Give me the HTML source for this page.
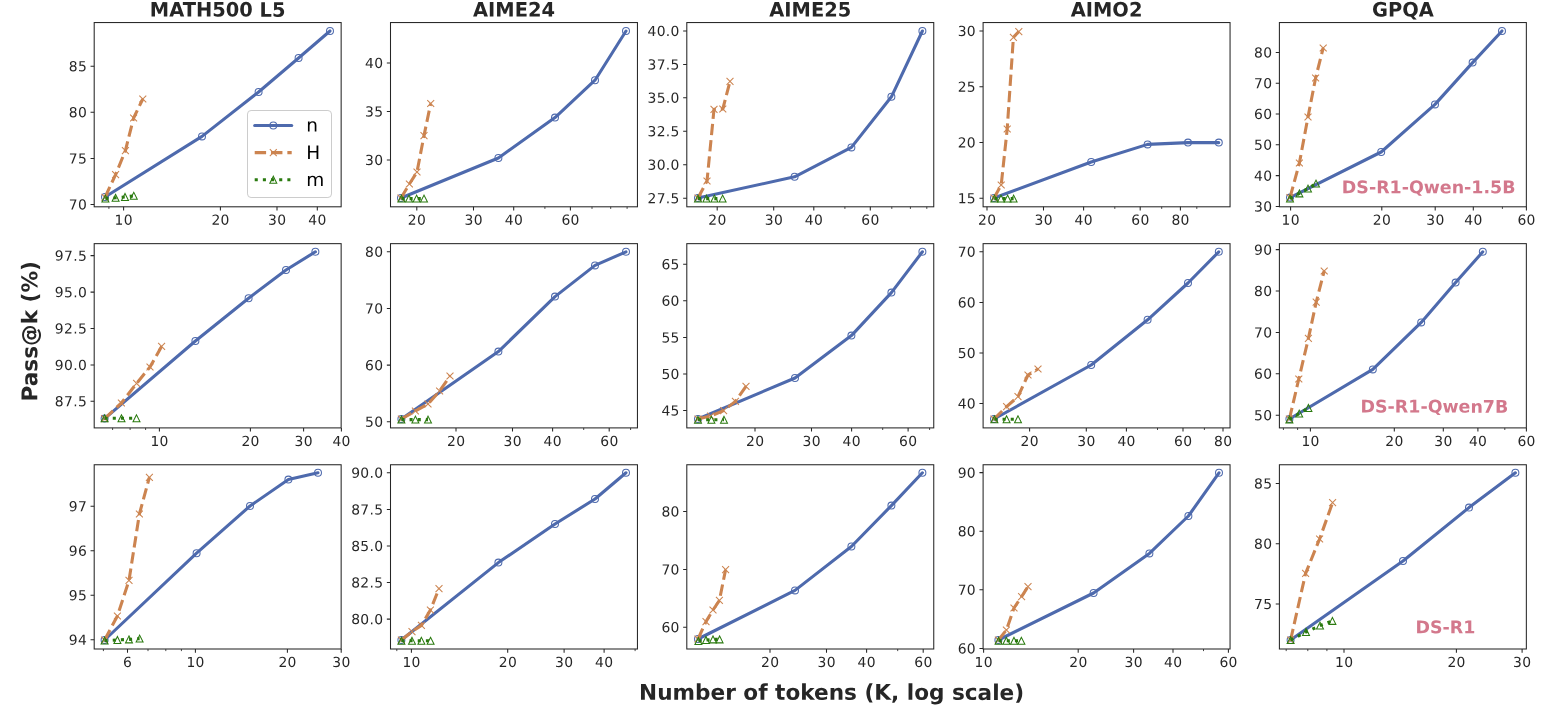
<!DOCTYPE html>
<html lang="en"><head><meta charset="utf-8"><title>Pass@k vs number of tokens</title>
<style>
html,body{margin:0;padding:0;background:#fff;}
body{width:1550px;height:717px;overflow:hidden;}
svg{display:block;}
text{font-family:"DejaVu Sans","Liberation Sans",sans-serif;fill:#262626;text-rendering:geometricPrecision;}
.tk{font-size:13.89px;letter-spacing:0.35px;}
.ti{font-size:19.44px;font-weight:bold;text-anchor:middle;}
.lb{font-size:21.6px;font-weight:bold;text-anchor:middle;}
.an{font-size:17.45px;font-weight:bold;text-anchor:middle;fill:#d3788c;}
.lg{font-size:18.5px;fill:#000;}
.sp{fill:none;stroke:#262626;stroke-width:1.05;stroke-linecap:square;stroke-linejoin:miter;}
.tkm{stroke:#262626;stroke-width:1.05;fill:none;}
.tkn{stroke:#262626;stroke-width:0.85;fill:none;}
.lb1{fill:none;stroke:#4e6aad;stroke-width:3.08;stroke-linecap:round;stroke-linejoin:round;}
.lo1{fill:none;stroke:#cc8450;stroke-width:3.08;stroke-linecap:butt;stroke-linejoin:round;stroke-dasharray:11.4 4.93;}
.lg1{fill:none;stroke:#2a7a0f;stroke-width:3.08;stroke-linecap:butt;stroke-linejoin:round;stroke-dasharray:3.08 5.08;}
.mb{fill:none;stroke:#4e6aad;stroke-width:1.05;}
.mo{fill:none;stroke:#cc8450;stroke-width:1.05;}
.mg{fill:none;stroke:#2a7a0f;stroke-width:1.05;stroke-linejoin:miter;}
</style></head><body>
<svg width="1550" height="717" viewBox="0 0 1550 717">
<rect x="0" y="0" width="1550" height="717" fill="#ffffff"/>
<g id="ax00">
<clipPath id="cp00"><rect x="94.2" y="22.55" width="246.95" height="184.25"/></clipPath>
<g clip-path="url(#cp00)">
<polyline class="lb1" points="105,197 202,136.4 258.6,92 298.6,58 330,31"/>
<g class="mb"><circle cx="105" cy="197" r="3.47"/><circle cx="202" cy="136.4" r="3.47"/><circle cx="258.6" cy="92" r="3.47"/><circle cx="298.6" cy="58" r="3.47"/><circle cx="330" cy="31" r="3.47"/></g>
<polyline class="lo1" points="105,197.3 115.6,174.6 125.4,150.6 133.6,118 142.8,99"/>
<g class="mo"><path d="M101.53 193.83L108.47 200.77M101.53 200.77L108.47 193.83"/><path d="M112.13 171.13L119.07 178.07M112.13 178.07L119.07 171.13"/><path d="M121.93 147.13L128.87 154.07M121.93 154.07L128.87 147.13"/><path d="M130.13 114.53L137.07 121.47M130.13 121.47L137.07 114.53"/><path d="M139.33 95.53L146.27 102.47M139.33 102.47L146.27 95.53"/></g>
<polyline class="lg1" points="105.4,198.6 115.6,197.8 125,197 133.8,195.8"/>
<g class="mg"><path d="M105.4 195.13L101.93 202.07L108.87 202.07Z"/><path d="M115.6 194.33L112.13 201.27L119.07 201.27Z"/><path d="M125 193.53L121.53 200.47L128.47 200.47Z"/><path d="M133.8 192.33L130.33 199.27L137.27 199.27Z"/></g>
</g>
<path class="tkm" d="M94.2 66.2H90.55M94.2 112.3H90.55M94.2 158.4H90.55M94.2 204.4H90.55M123.6 206.8V210.45M220.4 206.8V210.45M277 206.8V210.45M317.3 206.8V210.45"/>
<path class="tkn" d="M108.9 206.8V208.9"/>
<rect class="sp" x="94.2" y="22.55" width="246.95" height="184.25"/>
<text class="tk" text-anchor="end" transform="translate(87.15 71.25) rotate(0.05)">85</text>
<text class="tk" text-anchor="end" transform="translate(87.15 117.35) rotate(0.05)">80</text>
<text class="tk" text-anchor="end" transform="translate(87.15 163.45) rotate(0.05)">75</text>
<text class="tk" text-anchor="end" transform="translate(87.15 209.45) rotate(0.05)">70</text>
<text class="tk" text-anchor="middle" transform="translate(123.77 224.85) rotate(0.05)">10</text>
<text class="tk" text-anchor="middle" transform="translate(220.57 224.85) rotate(0.05)">20</text>
<text class="tk" text-anchor="middle" transform="translate(277.17 224.85) rotate(0.05)">30</text>
<text class="tk" text-anchor="middle" transform="translate(317.47 224.85) rotate(0.05)">40</text>
<text class="ti" transform="translate(217.67 16.6) rotate(0.05) scale(1 1.016)">MATH500 L5</text>
</g>
<g id="ax01">
<clipPath id="cp01"><rect x="390.5" y="22.55" width="246.95" height="184.25"/></clipPath>
<g clip-path="url(#cp01)">
<polyline class="lb1" points="401,198 498.4,158 555,117.6 595,80.2 626,31"/>
<g class="mb"><circle cx="401" cy="198" r="3.47"/><circle cx="498.4" cy="158" r="3.47"/><circle cx="555" cy="117.6" r="3.47"/><circle cx="595" cy="80.2" r="3.47"/><circle cx="626" cy="31" r="3.47"/></g>
<polyline class="lo1" points="401,198 409.4,184 417,172 424,135.6 430.7,103.5"/>
<g class="mo"><path d="M397.53 194.53L404.47 201.47M397.53 201.47L404.47 194.53"/><path d="M405.93 180.53L412.87 187.47M405.93 187.47L412.87 180.53"/><path d="M413.53 168.53L420.47 175.47M413.53 175.47L420.47 168.53"/><path d="M420.53 132.13L427.47 139.07M420.53 139.07L427.47 132.13"/><path d="M427.23 100.03L434.17 106.97M427.23 106.97L434.17 100.03"/></g>
<polyline class="lg1" points="401.4,198.6 409,198.6 416.6,198.6 424,198.6"/>
<g class="mg"><path d="M401.4 195.13L397.93 202.07L404.87 202.07Z"/><path d="M409 195.13L405.53 202.07L412.47 202.07Z"/><path d="M416.6 195.13L413.13 202.07L420.07 202.07Z"/><path d="M424 195.13L420.53 202.07L427.47 202.07Z"/></g>
</g>
<path class="tkm" d="M390.5 63H386.85M390.5 111.5H386.85M390.5 160H386.85M416.8 206.8V210.45M473.5 206.8V210.45M513.7 206.8V210.45M570.4 206.8V210.45"/>
<path class="tkn" d="M544.9 206.8V208.9M592 206.8V208.9M610.7 206.8V208.9M627.1 206.8V208.9"/>
<rect class="sp" x="390.5" y="22.55" width="246.95" height="184.25"/>
<text class="tk" text-anchor="end" transform="translate(383.45 68.05) rotate(0.05)">40</text>
<text class="tk" text-anchor="end" transform="translate(383.45 116.55) rotate(0.05)">35</text>
<text class="tk" text-anchor="end" transform="translate(383.45 165.05) rotate(0.05)">30</text>
<text class="tk" text-anchor="middle" transform="translate(416.97 224.85) rotate(0.05)">20</text>
<text class="tk" text-anchor="middle" transform="translate(473.67 224.85) rotate(0.05)">30</text>
<text class="tk" text-anchor="middle" transform="translate(513.87 224.85) rotate(0.05)">40</text>
<text class="tk" text-anchor="middle" transform="translate(570.57 224.85) rotate(0.05)">60</text>
<text class="ti" transform="translate(513.98 16.6) rotate(0.05) scale(1 1.016)">AIME24</text>
</g>
<g id="ax02">
<clipPath id="cp02"><rect x="686.8" y="22.55" width="246.95" height="184.25"/></clipPath>
<g clip-path="url(#cp02)">
<polyline class="lb1" points="698,198 794.6,176.8 851.4,147.4 891.4,96.8 922.4,31"/>
<g class="mb"><circle cx="698" cy="198" r="3.47"/><circle cx="794.6" cy="176.8" r="3.47"/><circle cx="851.4" cy="147.4" r="3.47"/><circle cx="891.4" cy="96.8" r="3.47"/><circle cx="922.4" cy="31" r="3.47"/></g>
<polyline class="lo1" points="698,198 707,181 714,109.4 722.8,109 730,81.4"/>
<g class="mo"><path d="M694.53 194.53L701.47 201.47M694.53 201.47L701.47 194.53"/><path d="M703.53 177.53L710.47 184.47M703.53 184.47L710.47 177.53"/><path d="M710.53 105.93L717.47 112.87M710.53 112.87L717.47 105.93"/><path d="M719.33 105.53L726.27 112.47M719.33 112.47L726.27 105.53"/><path d="M726.53 77.93L733.47 84.87M726.53 84.87L733.47 77.93"/></g>
<polyline class="lg1" points="698,198.6 706.4,198.6 714.4,198.6 722.6,198.6"/>
<g class="mg"><path d="M698 195.13L694.53 202.07L701.47 202.07Z"/><path d="M706.4 195.13L702.93 202.07L709.87 202.07Z"/><path d="M714.4 195.13L710.93 202.07L717.87 202.07Z"/><path d="M722.6 195.13L719.13 202.07L726.07 202.07Z"/></g>
</g>
<path class="tkm" d="M686.8 31H683.15M686.8 64.4H683.15M686.8 97.8H683.15M686.8 131.3H683.15M686.8 164.8H683.15M686.8 198.2H683.15M717.2 206.8V210.45M773.7 206.8V210.45M813.8 206.8V210.45M870.3 206.8V210.45"/>
<path class="tkn" d="M844.9 206.8V208.9M891.8 206.8V208.9M910.4 206.8V208.9M926.8 206.8V208.9"/>
<rect class="sp" x="686.8" y="22.55" width="246.95" height="184.25"/>
<text class="tk" text-anchor="end" transform="translate(679.75 36.05) rotate(0.05)">40.0</text>
<text class="tk" text-anchor="end" transform="translate(679.75 69.45) rotate(0.05)">37.5</text>
<text class="tk" text-anchor="end" transform="translate(679.75 102.85) rotate(0.05)">35.0</text>
<text class="tk" text-anchor="end" transform="translate(679.75 136.35) rotate(0.05)">32.5</text>
<text class="tk" text-anchor="end" transform="translate(679.75 169.85) rotate(0.05)">30.0</text>
<text class="tk" text-anchor="end" transform="translate(679.75 203.25) rotate(0.05)">27.5</text>
<text class="tk" text-anchor="middle" transform="translate(717.37 224.85) rotate(0.05)">20</text>
<text class="tk" text-anchor="middle" transform="translate(773.87 224.85) rotate(0.05)">30</text>
<text class="tk" text-anchor="middle" transform="translate(813.97 224.85) rotate(0.05)">40</text>
<text class="tk" text-anchor="middle" transform="translate(870.47 224.85) rotate(0.05)">60</text>
<text class="ti" transform="translate(810.28 16.6) rotate(0.05) scale(1 1.016)">AIME25</text>
</g>
<g id="ax03">
<clipPath id="cp03"><rect x="983.1" y="22.55" width="246.95" height="184.25"/></clipPath>
<g clip-path="url(#cp03)">
<polyline class="lb1" points="994,198 1091.2,162 1147.6,144.4 1188,142.6 1218.8,142.6"/>
<g class="mb"><circle cx="994" cy="198" r="3.47"/><circle cx="1091.2" cy="162" r="3.47"/><circle cx="1147.6" cy="144.4" r="3.47"/><circle cx="1188" cy="142.6" r="3.47"/><circle cx="1218.8" cy="142.6" r="3.47"/></g>
<polyline class="lo1" points="994,198 1001.2,185 1007.2,129 1013.4,37.4 1018.8,31.6"/>
<g class="mo"><path d="M990.53 194.53L997.47 201.47M990.53 201.47L997.47 194.53"/><path d="M997.73 181.53L1004.67 188.47M997.73 188.47L1004.67 181.53"/><path d="M1003.73 125.53L1010.67 132.47M1003.73 132.47L1010.67 125.53"/><path d="M1009.93 33.93L1016.87 40.87M1009.93 40.87L1016.87 33.93"/><path d="M1015.33 28.13L1022.27 35.07M1015.33 35.07L1022.27 28.13"/></g>
<polyline class="lg1" points="994.4,198.6 1001,198.6 1007.6,198.6 1013.6,198.6"/>
<g class="mg"><path d="M994.4 195.13L990.93 202.07L997.87 202.07Z"/><path d="M1001 195.13L997.53 202.07L1004.47 202.07Z"/><path d="M1007.6 195.13L1004.13 202.07L1011.07 202.07Z"/><path d="M1013.6 195.13L1010.13 202.07L1017.07 202.07Z"/></g>
</g>
<path class="tkm" d="M983.1 31H979.45M983.1 86.7H979.45M983.1 142.4H979.45M983.1 198.2H979.45M987 206.8V210.45M1043.5 206.8V210.45M1083.6 206.8V210.45M1140.2 206.8V210.45M1180.4 206.8V210.45"/>
<path class="tkn" d="M1114.8 206.8V208.9M1161.7 206.8V208.9M1196.8 206.8V208.9"/>
<rect class="sp" x="983.1" y="22.55" width="246.95" height="184.25"/>
<text class="tk" text-anchor="end" transform="translate(976.05 36.05) rotate(0.05)">30</text>
<text class="tk" text-anchor="end" transform="translate(976.05 91.75) rotate(0.05)">25</text>
<text class="tk" text-anchor="end" transform="translate(976.05 147.45) rotate(0.05)">20</text>
<text class="tk" text-anchor="end" transform="translate(976.05 203.25) rotate(0.05)">15</text>
<text class="tk" text-anchor="middle" transform="translate(987.17 224.85) rotate(0.05)">20</text>
<text class="tk" text-anchor="middle" transform="translate(1043.67 224.85) rotate(0.05)">30</text>
<text class="tk" text-anchor="middle" transform="translate(1083.77 224.85) rotate(0.05)">40</text>
<text class="tk" text-anchor="middle" transform="translate(1140.37 224.85) rotate(0.05)">60</text>
<text class="tk" text-anchor="middle" transform="translate(1180.57 224.85) rotate(0.05)">80</text>
<text class="ti" transform="translate(1106.58 16.6) rotate(0.05) scale(1 1.016)">AIMO2</text>
</g>
<g id="ax04">
<clipPath id="cp04"><rect x="1279.4" y="22.55" width="246.95" height="184.25"/></clipPath>
<g clip-path="url(#cp04)">
<polyline class="lb1" points="1290,197.6 1381.2,152 1435,104.4 1472.6,62.6 1502,31"/>
<g class="mb"><circle cx="1290" cy="197.6" r="3.47"/><circle cx="1381.2" cy="152" r="3.47"/><circle cx="1435" cy="104.4" r="3.47"/><circle cx="1472.6" cy="62.6" r="3.47"/><circle cx="1502" cy="31" r="3.47"/></g>
<polyline class="lo1" points="1290,197.6 1299.4,163 1308,117 1315.6,78 1323.2,48"/>
<g class="mo"><path d="M1286.53 194.13L1293.47 201.07M1286.53 201.07L1293.47 194.13"/><path d="M1295.93 159.53L1302.87 166.47M1295.93 166.47L1302.87 159.53"/><path d="M1304.53 113.53L1311.47 120.47M1304.53 120.47L1311.47 113.53"/><path d="M1312.13 74.53L1319.07 81.47M1312.13 81.47L1319.07 74.53"/><path d="M1319.73 44.53L1326.67 51.47M1319.73 51.47L1326.67 44.53"/></g>
<polyline class="lg1" points="1290,198.6 1299.4,193.4 1308,188.6 1316,183.6"/>
<g class="mg"><path d="M1290 195.13L1286.53 202.07L1293.47 202.07Z"/><path d="M1299.4 189.93L1295.93 196.87L1302.87 196.87Z"/><path d="M1308 185.13L1304.53 192.07L1311.47 192.07Z"/><path d="M1316 180.13L1312.53 187.07L1319.47 187.07Z"/></g>
</g>
<path class="tkm" d="M1279.4 52.4H1275.75M1279.4 83.2H1275.75M1279.4 114H1275.75M1279.4 144.8H1275.75M1279.4 175.6H1275.75M1279.4 206.4H1275.75M1290.6 206.8V210.45M1381.8 206.8V210.45M1435.2 206.8V210.45M1473.3 206.8V210.45M1526.4 206.8V210.45"/>
<path class="tkn" d="M1502.4 206.8V208.9"/>
<rect class="sp" x="1279.4" y="22.55" width="246.95" height="184.25"/>
<text class="tk" text-anchor="end" transform="translate(1272.35 57.45) rotate(0.05)">80</text>
<text class="tk" text-anchor="end" transform="translate(1272.35 88.25) rotate(0.05)">70</text>
<text class="tk" text-anchor="end" transform="translate(1272.35 119.05) rotate(0.05)">60</text>
<text class="tk" text-anchor="end" transform="translate(1272.35 149.85) rotate(0.05)">50</text>
<text class="tk" text-anchor="end" transform="translate(1272.35 180.65) rotate(0.05)">40</text>
<text class="tk" text-anchor="end" transform="translate(1272.35 211.45) rotate(0.05)">30</text>
<text class="tk" text-anchor="middle" transform="translate(1290.77 224.85) rotate(0.05)">10</text>
<text class="tk" text-anchor="middle" transform="translate(1381.97 224.85) rotate(0.05)">20</text>
<text class="tk" text-anchor="middle" transform="translate(1435.37 224.85) rotate(0.05)">30</text>
<text class="tk" text-anchor="middle" transform="translate(1473.47 224.85) rotate(0.05)">40</text>
<text class="tk" text-anchor="middle" transform="translate(1526.57 224.85) rotate(0.05)">60</text>
<text class="ti" transform="translate(1402.88 16.6) rotate(0.05) scale(1 1.016)">GPQA</text>
<text class="an" transform="translate(1428.7 193.3) rotate(0.05)">DS-R1-Qwen-1.5B</text>
</g>
<g id="ax10">
<clipPath id="cp10"><rect x="94.2" y="243.65" width="246.95" height="184.25"/></clipPath>
<g clip-path="url(#cp10)">
<polyline class="lb1" points="104.6,418.6 195.4,341 248.6,298.2 286,270 315.4,251.8"/>
<g class="mb"><circle cx="104.6" cy="418.6" r="3.47"/><circle cx="195.4" cy="341" r="3.47"/><circle cx="248.6" cy="298.2" r="3.47"/><circle cx="286" cy="270" r="3.47"/><circle cx="315.4" cy="251.8" r="3.47"/></g>
<polyline class="lo1" points="104.6,418.6 121.4,403 136.6,383.4 150,367 161.6,346.4"/>
<g class="mo"><path d="M101.13 415.13L108.07 422.07M101.13 422.07L108.07 415.13"/><path d="M117.93 399.53L124.87 406.47M117.93 406.47L124.87 399.53"/><path d="M133.13 379.93L140.07 386.87M133.13 386.87L140.07 379.93"/><path d="M146.53 363.53L153.47 370.47M146.53 370.47L153.47 363.53"/><path d="M158.13 342.93L165.07 349.87M158.13 349.87L165.07 342.93"/></g>
<polyline class="lg1" points="104.6,418.3 121.5,418.3 136.5,418.3"/>
<g class="mg"><path d="M104.6 414.83L101.13 421.77L108.07 421.77Z"/><path d="M121.5 414.83L118.03 421.77L124.97 421.77Z"/><path d="M136.5 414.83L133.03 421.77L139.97 421.77Z"/></g>
</g>
<path class="tkm" d="M94.2 255.6H90.55M94.2 292.1H90.55M94.2 328.5H90.55M94.2 364.9H90.55M94.2 401.3H90.55M159.4 427.9V431.55M250.4 427.9V431.55M303.6 427.9V431.55M341.4 427.9V431.55"/>
<path class="tkn" d="M112.6 427.9V430M130.1 427.9V430M145.6 427.9V430"/>
<rect class="sp" x="94.2" y="243.65" width="246.95" height="184.25"/>
<text class="tk" text-anchor="end" transform="translate(87.15 260.65) rotate(0.05)">97.5</text>
<text class="tk" text-anchor="end" transform="translate(87.15 297.15) rotate(0.05)">95.0</text>
<text class="tk" text-anchor="end" transform="translate(87.15 333.55) rotate(0.05)">92.5</text>
<text class="tk" text-anchor="end" transform="translate(87.15 369.95) rotate(0.05)">90.0</text>
<text class="tk" text-anchor="end" transform="translate(87.15 406.35) rotate(0.05)">87.5</text>
<text class="tk" text-anchor="middle" transform="translate(159.57 445.95) rotate(0.05)">10</text>
<text class="tk" text-anchor="middle" transform="translate(250.57 445.95) rotate(0.05)">20</text>
<text class="tk" text-anchor="middle" transform="translate(303.77 445.95) rotate(0.05)">30</text>
<text class="tk" text-anchor="middle" transform="translate(341.57 445.95) rotate(0.05)">40</text>
</g>
<g id="ax11">
<clipPath id="cp11"><rect x="390.5" y="243.65" width="246.95" height="184.25"/></clipPath>
<g clip-path="url(#cp11)">
<polyline class="lb1" points="401.4,419 498.4,351.6 555,296.6 595,265.4 626,251.8"/>
<g class="mb"><circle cx="401.4" cy="419" r="3.47"/><circle cx="498.4" cy="351.6" r="3.47"/><circle cx="555" cy="296.6" r="3.47"/><circle cx="595" cy="265.4" r="3.47"/><circle cx="626" cy="251.8" r="3.47"/></g>
<polyline class="lo1" points="401.4,419 415.4,411 428,404 439.6,391 450,376"/>
<g class="mo"><path d="M397.93 415.53L404.87 422.47M397.93 422.47L404.87 415.53"/><path d="M411.93 407.53L418.87 414.47M411.93 414.47L418.87 407.53"/><path d="M424.53 400.53L431.47 407.47M424.53 407.47L431.47 400.53"/><path d="M436.13 387.53L443.07 394.47M436.13 394.47L443.07 387.53"/><path d="M446.53 372.53L453.47 379.47M446.53 379.47L453.47 372.53"/></g>
<polyline class="lg1" points="401.4,419.6 415.4,419.6 428,419.6"/>
<g class="mg"><path d="M401.4 416.13L397.93 423.07L404.87 423.07Z"/><path d="M415.4 416.13L411.93 423.07L418.87 423.07Z"/><path d="M428 416.13L424.53 423.07L431.47 423.07Z"/></g>
</g>
<path class="tkm" d="M390.5 251.8H386.85M390.5 308.4H386.85M390.5 365.1H386.85M390.5 421.8H386.85M456 427.9V431.55M512.5 427.9V431.55M552.6 427.9V431.55M609.2 427.9V431.55"/>
<path class="tkn" d="M583.7 427.9V430M630.6 427.9V430"/>
<rect class="sp" x="390.5" y="243.65" width="246.95" height="184.25"/>
<text class="tk" text-anchor="end" transform="translate(383.45 256.85) rotate(0.05)">80</text>
<text class="tk" text-anchor="end" transform="translate(383.45 313.45) rotate(0.05)">70</text>
<text class="tk" text-anchor="end" transform="translate(383.45 370.15) rotate(0.05)">60</text>
<text class="tk" text-anchor="end" transform="translate(383.45 426.85) rotate(0.05)">50</text>
<text class="tk" text-anchor="middle" transform="translate(456.17 445.95) rotate(0.05)">20</text>
<text class="tk" text-anchor="middle" transform="translate(512.67 445.95) rotate(0.05)">30</text>
<text class="tk" text-anchor="middle" transform="translate(552.77 445.95) rotate(0.05)">40</text>
<text class="tk" text-anchor="middle" transform="translate(609.37 445.95) rotate(0.05)">60</text>
</g>
<g id="ax12">
<clipPath id="cp12"><rect x="686.8" y="243.65" width="246.95" height="184.25"/></clipPath>
<g clip-path="url(#cp12)">
<polyline class="lb1" points="698,419 795,378 851.4,335.6 891.4,292.6 922.4,251.8"/>
<g class="mb"><circle cx="698" cy="419" r="3.47"/><circle cx="795" cy="378" r="3.47"/><circle cx="851.4" cy="335.6" r="3.47"/><circle cx="891.4" cy="292.6" r="3.47"/><circle cx="922.4" cy="251.8" r="3.47"/></g>
<polyline class="lo1" points="698,419 710.6,416 723.6,410.6 735.4,401.4 746,386.4"/>
<g class="mo"><path d="M694.53 415.53L701.47 422.47M694.53 422.47L701.47 415.53"/><path d="M707.13 412.53L714.07 419.47M707.13 419.47L714.07 412.53"/><path d="M720.13 407.13L727.07 414.07M720.13 414.07L727.07 407.13"/><path d="M731.93 397.93L738.87 404.87M731.93 404.87L738.87 397.93"/><path d="M742.53 382.93L749.47 389.87M742.53 389.87L749.47 382.93"/></g>
<polyline class="lg1" points="698,419.8 711.4,419.8 724,419.8"/>
<g class="mg"><path d="M698 416.33L694.53 423.27L701.47 423.27Z"/><path d="M711.4 416.33L707.93 423.27L714.87 423.27Z"/><path d="M724 416.33L720.53 423.27L727.47 423.27Z"/></g>
</g>
<path class="tkm" d="M686.8 264.2H683.15M686.8 300.8H683.15M686.8 337.4H683.15M686.8 373.9H683.15M686.8 410.4H683.15M755 427.9V431.55M811.5 427.9V431.55M851.6 427.9V431.55M908.1 427.9V431.55"/>
<path class="tkn" d="M882.7 427.9V430M929.6 427.9V430"/>
<rect class="sp" x="686.8" y="243.65" width="246.95" height="184.25"/>
<text class="tk" text-anchor="end" transform="translate(679.75 269.25) rotate(0.05)">65</text>
<text class="tk" text-anchor="end" transform="translate(679.75 305.85) rotate(0.05)">60</text>
<text class="tk" text-anchor="end" transform="translate(679.75 342.45) rotate(0.05)">55</text>
<text class="tk" text-anchor="end" transform="translate(679.75 378.95) rotate(0.05)">50</text>
<text class="tk" text-anchor="end" transform="translate(679.75 415.45) rotate(0.05)">45</text>
<text class="tk" text-anchor="middle" transform="translate(755.17 445.95) rotate(0.05)">20</text>
<text class="tk" text-anchor="middle" transform="translate(811.67 445.95) rotate(0.05)">30</text>
<text class="tk" text-anchor="middle" transform="translate(851.77 445.95) rotate(0.05)">40</text>
<text class="tk" text-anchor="middle" transform="translate(908.27 445.95) rotate(0.05)">60</text>
</g>
<g id="ax13">
<clipPath id="cp13"><rect x="983.1" y="243.65" width="246.95" height="184.25"/></clipPath>
<g clip-path="url(#cp13)">
<polyline class="lb1" points="994,419 1091.2,365 1147.6,319.8 1188,283 1218.8,251.8"/>
<g class="mb"><circle cx="994" cy="419" r="3.47"/><circle cx="1091.2" cy="365" r="3.47"/><circle cx="1147.6" cy="319.8" r="3.47"/><circle cx="1188" cy="283" r="3.47"/><circle cx="1218.8" cy="251.8" r="3.47"/></g>
<polyline class="lo1" points="994,419 1006.6,406.6 1018,396.6 1028,375 1038,369"/>
<g class="mo"><path d="M990.53 415.53L997.47 422.47M990.53 422.47L997.47 415.53"/><path d="M1003.13 403.13L1010.07 410.07M1003.13 410.07L1010.07 403.13"/><path d="M1014.53 393.13L1021.47 400.07M1014.53 400.07L1021.47 393.13"/><path d="M1024.53 371.53L1031.47 378.47M1024.53 378.47L1031.47 371.53"/><path d="M1034.53 365.53L1041.47 372.47M1034.53 372.47L1041.47 365.53"/></g>
<polyline class="lg1" points="994.4,419.3 1006.6,419.3 1018,419.3"/>
<g class="mg"><path d="M994.4 415.83L990.93 422.77L997.87 422.77Z"/><path d="M1006.6 415.83L1003.13 422.77L1010.07 422.77Z"/><path d="M1018 415.83L1014.53 422.77L1021.47 422.77Z"/></g>
</g>
<path class="tkm" d="M983.1 251.8H979.45M983.1 302.4H979.45M983.1 353H979.45M983.1 403.5H979.45M1029.6 427.9V431.55M1086.3 427.9V431.55M1126.4 427.9V431.55M1183 427.9V431.55M1223 427.9V431.55"/>
<path class="tkn" d="M1157.5 427.9V430M1204.4 427.9V430"/>
<rect class="sp" x="983.1" y="243.65" width="246.95" height="184.25"/>
<text class="tk" text-anchor="end" transform="translate(976.05 256.85) rotate(0.05)">70</text>
<text class="tk" text-anchor="end" transform="translate(976.05 307.45) rotate(0.05)">60</text>
<text class="tk" text-anchor="end" transform="translate(976.05 358.05) rotate(0.05)">50</text>
<text class="tk" text-anchor="end" transform="translate(976.05 408.55) rotate(0.05)">40</text>
<text class="tk" text-anchor="middle" transform="translate(1029.77 445.95) rotate(0.05)">20</text>
<text class="tk" text-anchor="middle" transform="translate(1086.47 445.95) rotate(0.05)">30</text>
<text class="tk" text-anchor="middle" transform="translate(1126.57 445.95) rotate(0.05)">40</text>
<text class="tk" text-anchor="middle" transform="translate(1183.17 445.95) rotate(0.05)">60</text>
<text class="tk" text-anchor="middle" transform="translate(1223.17 445.95) rotate(0.05)">80</text>
</g>
<g id="ax14">
<clipPath id="cp14"><rect x="1279.4" y="243.65" width="246.95" height="184.25"/></clipPath>
<g clip-path="url(#cp14)">
<polyline class="lb1" points="1289.4,419 1372.8,369.4 1421.2,322.4 1455.6,282.6 1482.8,251.8"/>
<g class="mb"><circle cx="1289.4" cy="419" r="3.47"/><circle cx="1372.8" cy="369.4" r="3.47"/><circle cx="1421.2" cy="322.4" r="3.47"/><circle cx="1455.6" cy="282.6" r="3.47"/><circle cx="1482.8" cy="251.8" r="3.47"/></g>
<polyline class="lo1" points="1289.4,419 1298.8,379 1308.4,338.4 1316.2,302.2 1324.2,271"/>
<g class="mo"><path d="M1285.93 415.53L1292.87 422.47M1285.93 422.47L1292.87 415.53"/><path d="M1295.33 375.53L1302.27 382.47M1295.33 382.47L1302.27 375.53"/><path d="M1304.93 334.93L1311.87 341.87M1304.93 341.87L1311.87 334.93"/><path d="M1312.73 298.73L1319.67 305.67M1312.73 305.67L1319.67 298.73"/><path d="M1320.73 267.53L1327.67 274.47M1320.73 274.47L1327.67 267.53"/></g>
<polyline class="lg1" points="1289.4,419.4 1299.2,413.6 1308.4,408"/>
<g class="mg"><path d="M1289.4 415.93L1285.93 422.87L1292.87 422.87Z"/><path d="M1299.2 410.13L1295.73 417.07L1302.67 417.07Z"/><path d="M1308.4 404.53L1304.93 411.47L1311.87 411.47Z"/></g>
</g>
<path class="tkm" d="M1279.4 249.6H1275.75M1279.4 291H1275.75M1279.4 332.5H1275.75M1279.4 373.8H1275.75M1279.4 415.2H1275.75M1310.4 427.9V431.55M1394.3 427.9V431.55M1443.3 427.9V431.55M1477.9 427.9V431.55M1526.4 427.9V431.55"/>
<path class="tkn" d="M1283.4 427.9V430M1297.6 427.9V430M1504.8 427.9V430"/>
<rect class="sp" x="1279.4" y="243.65" width="246.95" height="184.25"/>
<text class="tk" text-anchor="end" transform="translate(1272.35 254.65) rotate(0.05)">90</text>
<text class="tk" text-anchor="end" transform="translate(1272.35 296.05) rotate(0.05)">80</text>
<text class="tk" text-anchor="end" transform="translate(1272.35 337.55) rotate(0.05)">70</text>
<text class="tk" text-anchor="end" transform="translate(1272.35 378.85) rotate(0.05)">60</text>
<text class="tk" text-anchor="end" transform="translate(1272.35 420.25) rotate(0.05)">50</text>
<text class="tk" text-anchor="middle" transform="translate(1310.57 445.95) rotate(0.05)">10</text>
<text class="tk" text-anchor="middle" transform="translate(1394.47 445.95) rotate(0.05)">20</text>
<text class="tk" text-anchor="middle" transform="translate(1443.47 445.95) rotate(0.05)">30</text>
<text class="tk" text-anchor="middle" transform="translate(1478.07 445.95) rotate(0.05)">40</text>
<text class="tk" text-anchor="middle" transform="translate(1526.57 445.95) rotate(0.05)">60</text>
<text class="an" transform="translate(1434.4 412.6) rotate(0.05)">DS-R1-Qwen7B</text>
</g>
<g id="ax20">
<clipPath id="cp20"><rect x="94.2" y="464.75" width="246.95" height="184.25"/></clipPath>
<g clip-path="url(#cp20)">
<polyline class="lb1" points="104.6,640 196.6,553.2 250,506 288.4,479.6 318,472.8"/>
<g class="mb"><circle cx="104.6" cy="640" r="3.47"/><circle cx="196.6" cy="553.2" r="3.47"/><circle cx="250" cy="506" r="3.47"/><circle cx="288.4" cy="479.6" r="3.47"/><circle cx="318" cy="472.8" r="3.47"/></g>
<polyline class="lo1" points="104.6,640 117.4,616 129,580.4 139.4,514 149.4,477.4"/>
<g class="mo"><path d="M101.13 636.53L108.07 643.47M101.13 643.47L108.07 636.53"/><path d="M113.93 612.53L120.87 619.47M113.93 619.47L120.87 612.53"/><path d="M125.53 576.93L132.47 583.87M125.53 583.87L132.47 576.93"/><path d="M135.93 510.53L142.87 517.47M135.93 517.47L142.87 510.53"/><path d="M145.93 473.93L152.87 480.87M145.93 480.87L152.87 473.93"/></g>
<polyline class="lg1" points="104.6,640.6 117.4,640 129,639.4 139.6,638.6"/>
<g class="mg"><path d="M104.6 637.13L101.13 644.07L108.07 644.07Z"/><path d="M117.4 636.53L113.93 643.47L120.87 643.47Z"/><path d="M129 635.93L125.53 642.87L132.47 642.87Z"/><path d="M139.6 635.13L136.13 642.07L143.07 642.07Z"/></g>
</g>
<path class="tkm" d="M94.2 506.3H90.55M94.2 550.8H90.55M94.2 595.3H90.55M94.2 639.8H90.55M127.5 649V652.65M195.4 649V652.65M287.4 649V652.65M341.2 649V652.65"/>
<path class="tkn" d="M103.4 649V651.1M148 649V651.1M165.8 649V651.1M181.4 649V651.1"/>
<rect class="sp" x="94.2" y="464.75" width="246.95" height="184.25"/>
<text class="tk" text-anchor="end" transform="translate(87.15 511.35) rotate(0.05)">97</text>
<text class="tk" text-anchor="end" transform="translate(87.15 555.85) rotate(0.05)">96</text>
<text class="tk" text-anchor="end" transform="translate(87.15 600.35) rotate(0.05)">95</text>
<text class="tk" text-anchor="end" transform="translate(87.15 644.85) rotate(0.05)">94</text>
<text class="tk" text-anchor="middle" transform="translate(127.67 667.05) rotate(0.05)">6</text>
<text class="tk" text-anchor="middle" transform="translate(195.57 667.05) rotate(0.05)">10</text>
<text class="tk" text-anchor="middle" transform="translate(287.57 667.05) rotate(0.05)">20</text>
<text class="tk" text-anchor="middle" transform="translate(341.37 667.05) rotate(0.05)">30</text>
</g>
<g id="ax21">
<clipPath id="cp21"><rect x="390.5" y="464.75" width="246.95" height="184.25"/></clipPath>
<g clip-path="url(#cp21)">
<polyline class="lb1" points="401.4,640 498.4,562.6 555,524 595,499 626,472.8"/>
<g class="mb"><circle cx="401.4" cy="640" r="3.47"/><circle cx="498.4" cy="562.6" r="3.47"/><circle cx="555" cy="524" r="3.47"/><circle cx="595" cy="499" r="3.47"/><circle cx="626" cy="472.8" r="3.47"/></g>
<polyline class="lo1" points="401.4,640 412,631.6 421.4,625.4 430.4,610 439,588.6"/>
<g class="mo"><path d="M397.93 636.53L404.87 643.47M397.93 643.47L404.87 636.53"/><path d="M408.53 628.13L415.47 635.07M408.53 635.07L415.47 628.13"/><path d="M417.93 621.93L424.87 628.87M417.93 628.87L424.87 621.93"/><path d="M426.93 606.53L433.87 613.47M426.93 613.47L433.87 606.53"/><path d="M435.53 585.13L442.47 592.07M435.53 592.07L442.47 585.13"/></g>
<polyline class="lg1" points="401.4,640.8 412,640.8 421.4,640.8 430.6,640.8"/>
<g class="mg"><path d="M401.4 637.33L397.93 644.27L404.87 644.27Z"/><path d="M412 637.33L408.53 644.27L415.47 644.27Z"/><path d="M421.4 637.33L417.93 644.27L424.87 644.27Z"/><path d="M430.6 637.33L427.13 644.27L434.07 644.27Z"/></g>
</g>
<path class="tkm" d="M390.5 472.8H386.85M390.5 509.4H386.85M390.5 545.9H386.85M390.5 582.5H386.85M390.5 619.1H386.85M411.4 649V652.65M507.7 649V652.65M564.1 649V652.65M604.1 649V652.65"/>
<path class="tkn" d="M396.8 649V651.1M635.1 649V651.1"/>
<rect class="sp" x="390.5" y="464.75" width="246.95" height="184.25"/>
<text class="tk" text-anchor="end" transform="translate(383.45 477.85) rotate(0.05)">90.0</text>
<text class="tk" text-anchor="end" transform="translate(383.45 514.45) rotate(0.05)">87.5</text>
<text class="tk" text-anchor="end" transform="translate(383.45 550.95) rotate(0.05)">85.0</text>
<text class="tk" text-anchor="end" transform="translate(383.45 587.55) rotate(0.05)">82.5</text>
<text class="tk" text-anchor="end" transform="translate(383.45 624.15) rotate(0.05)">80.0</text>
<text class="tk" text-anchor="middle" transform="translate(411.57 667.05) rotate(0.05)">10</text>
<text class="tk" text-anchor="middle" transform="translate(507.87 667.05) rotate(0.05)">20</text>
<text class="tk" text-anchor="middle" transform="translate(564.27 667.05) rotate(0.05)">30</text>
<text class="tk" text-anchor="middle" transform="translate(604.27 667.05) rotate(0.05)">40</text>
</g>
<g id="ax22">
<clipPath id="cp22"><rect x="686.8" y="464.75" width="246.95" height="184.25"/></clipPath>
<g clip-path="url(#cp22)">
<polyline class="lb1" points="698,639 795,590.4 851.4,546.5 891.4,505.6 922.4,472.8"/>
<g class="mb"><circle cx="698" cy="639" r="3.47"/><circle cx="795" cy="590.4" r="3.47"/><circle cx="851.4" cy="546.5" r="3.47"/><circle cx="891.4" cy="505.6" r="3.47"/><circle cx="922.4" cy="472.8" r="3.47"/></g>
<polyline class="lo1" points="698,639 706,621.6 713,610 719.4,600.4 725.6,569.6"/>
<g class="mo"><path d="M694.53 635.53L701.47 642.47M694.53 642.47L701.47 635.53"/><path d="M702.53 618.13L709.47 625.07M702.53 625.07L709.47 618.13"/><path d="M709.53 606.53L716.47 613.47M709.53 613.47L716.47 606.53"/><path d="M715.93 596.93L722.87 603.87M715.93 603.87L722.87 596.93"/><path d="M722.13 566.13L729.07 573.07M722.13 573.07L729.07 566.13"/></g>
<polyline class="lg1" points="698.4,641 706,640 713,639.4 719.6,639.4"/>
<g class="mg"><path d="M698.4 637.53L694.93 644.47L701.87 644.47Z"/><path d="M706 636.53L702.53 643.47L709.47 643.47Z"/><path d="M713 635.93L709.53 642.87L716.47 642.87Z"/><path d="M719.6 635.93L716.13 642.87L723.07 642.87Z"/></g>
</g>
<path class="tkm" d="M686.8 511.5H683.15M686.8 569.5H683.15M686.8 627.2H683.15M770 649V652.65M826.5 649V652.65M866.6 649V652.65M923.2 649V652.65"/>
<path class="tkn" d="M897.7 649V651.1"/>
<rect class="sp" x="686.8" y="464.75" width="246.95" height="184.25"/>
<text class="tk" text-anchor="end" transform="translate(679.75 516.55) rotate(0.05)">80</text>
<text class="tk" text-anchor="end" transform="translate(679.75 574.55) rotate(0.05)">70</text>
<text class="tk" text-anchor="end" transform="translate(679.75 632.25) rotate(0.05)">60</text>
<text class="tk" text-anchor="middle" transform="translate(770.17 667.05) rotate(0.05)">20</text>
<text class="tk" text-anchor="middle" transform="translate(826.67 667.05) rotate(0.05)">30</text>
<text class="tk" text-anchor="middle" transform="translate(866.77 667.05) rotate(0.05)">40</text>
<text class="tk" text-anchor="middle" transform="translate(923.37 667.05) rotate(0.05)">60</text>
</g>
<g id="ax23">
<clipPath id="cp23"><rect x="983.1" y="464.75" width="246.95" height="184.25"/></clipPath>
<g clip-path="url(#cp23)">
<polyline class="lb1" points="998.4,640 1093.6,593 1149.4,553.4 1188.4,516 1219,472.8"/>
<g class="mb"><circle cx="998.4" cy="640" r="3.47"/><circle cx="1093.6" cy="593" r="3.47"/><circle cx="1149.4" cy="553.4" r="3.47"/><circle cx="1188.4" cy="516" r="3.47"/><circle cx="1219" cy="472.8" r="3.47"/></g>
<polyline class="lo1" points="998.4,640 1006.4,630 1014,608 1021.6,596.6 1028,586.6"/>
<g class="mo"><path d="M994.93 636.53L1001.87 643.47M994.93 643.47L1001.87 636.53"/><path d="M1002.93 626.53L1009.87 633.47M1002.93 633.47L1009.87 626.53"/><path d="M1010.53 604.53L1017.47 611.47M1010.53 611.47L1017.47 604.53"/><path d="M1018.13 593.13L1025.07 600.07M1018.13 600.07L1025.07 593.13"/><path d="M1024.53 583.13L1031.47 590.07M1024.53 590.07L1031.47 583.13"/></g>
<polyline class="lg1" points="998.6,640.8 1006.4,640.8 1014,640.8 1021.4,640.8"/>
<g class="mg"><path d="M998.6 637.33L995.13 644.27L1002.07 644.27Z"/><path d="M1006.4 637.33L1002.93 644.27L1009.87 644.27Z"/><path d="M1014 637.33L1010.53 644.27L1017.47 644.27Z"/><path d="M1021.4 637.33L1017.93 644.27L1024.87 644.27Z"/></g>
</g>
<path class="tkm" d="M983.1 472.6H979.45M983.1 531.2H979.45M983.1 589.8H979.45M983.1 648.4H979.45M983.6 649V652.65M1078.2 649V652.65M1133.6 649V652.65M1173 649V652.65M1228.4 649V652.65"/>
<path class="tkn" d="M1203.5 649V651.1"/>
<rect class="sp" x="983.1" y="464.75" width="246.95" height="184.25"/>
<text class="tk" text-anchor="end" transform="translate(976.05 477.65) rotate(0.05)">90</text>
<text class="tk" text-anchor="end" transform="translate(976.05 536.25) rotate(0.05)">80</text>
<text class="tk" text-anchor="end" transform="translate(976.05 594.85) rotate(0.05)">70</text>
<text class="tk" text-anchor="end" transform="translate(976.05 653.45) rotate(0.05)">60</text>
<text class="tk" text-anchor="middle" transform="translate(983.77 667.05) rotate(0.05)">10</text>
<text class="tk" text-anchor="middle" transform="translate(1078.37 667.05) rotate(0.05)">20</text>
<text class="tk" text-anchor="middle" transform="translate(1133.77 667.05) rotate(0.05)">30</text>
<text class="tk" text-anchor="middle" transform="translate(1173.17 667.05) rotate(0.05)">40</text>
<text class="tk" text-anchor="middle" transform="translate(1228.57 667.05) rotate(0.05)">60</text>
</g>
<g id="ax24">
<clipPath id="cp24"><rect x="1279.4" y="464.75" width="246.95" height="184.25"/></clipPath>
<g clip-path="url(#cp24)">
<polyline class="lb1" points="1290.6,640 1403,561 1469,507.6 1515.4,472.8"/>
<g class="mb"><circle cx="1290.6" cy="640" r="3.47"/><circle cx="1403" cy="561" r="3.47"/><circle cx="1469" cy="507.6" r="3.47"/><circle cx="1515.4" cy="472.8" r="3.47"/></g>
<polyline class="lo1" points="1290.6,640 1305.6,573.4 1319.6,539 1332.6,502.6"/>
<g class="mo"><path d="M1287.13 636.53L1294.07 643.47M1287.13 643.47L1294.07 636.53"/><path d="M1302.13 569.93L1309.07 576.87M1302.13 576.87L1309.07 569.93"/><path d="M1316.13 535.53L1323.07 542.47M1316.13 542.47L1323.07 535.53"/><path d="M1329.13 499.13L1336.07 506.07M1329.13 506.07L1336.07 499.13"/></g>
<polyline class="lg1" points="1290.6,640.1 1306,632 1320,625.6 1332.4,620.9"/>
<g class="mg"><path d="M1290.6 636.63L1287.13 643.57L1294.07 643.57Z"/><path d="M1306 628.53L1302.53 635.47L1309.47 635.47Z"/><path d="M1320 622.13L1316.53 629.07L1323.47 629.07Z"/><path d="M1332.4 617.43L1328.93 624.37L1335.87 624.37Z"/></g>
</g>
<path class="tkm" d="M1279.4 483.4H1275.75M1279.4 543.7H1275.75M1279.4 604H1275.75M1344 649V652.65M1456.4 649V652.65M1522.1 649V652.65"/>
<path class="tkn" d="M1286.2 649V651.1M1307.8 649V651.1M1326.9 649V651.1"/>
<rect class="sp" x="1279.4" y="464.75" width="246.95" height="184.25"/>
<text class="tk" text-anchor="end" transform="translate(1272.35 488.45) rotate(0.05)">85</text>
<text class="tk" text-anchor="end" transform="translate(1272.35 548.75) rotate(0.05)">80</text>
<text class="tk" text-anchor="end" transform="translate(1272.35 609.05) rotate(0.05)">75</text>
<text class="tk" text-anchor="middle" transform="translate(1344.17 667.05) rotate(0.05)">10</text>
<text class="tk" text-anchor="middle" transform="translate(1456.57 667.05) rotate(0.05)">20</text>
<text class="tk" text-anchor="middle" transform="translate(1522.27 667.05) rotate(0.05)">30</text>
<text class="an" transform="translate(1445.4 633.3) rotate(0.05)">DS-R1</text>
</g>
<g id="legend">
<rect x="247.5" y="110.5" width="84" height="87" rx="3.6" ry="3.6" fill="#ffffff" fill-opacity="0.8" stroke="#cccccc" stroke-width="1"/>
<path class="lb1" d="M254.7 125.5H291.7"/>
<g class="mb"><circle cx="273.3" cy="125.5" r="3.47"/></g>
<path class="lo1" d="M254.7 152.6H291.7"/>
<g class="mo"><path d="M269.83 149.13L276.77 156.07M269.83 156.07L276.77 149.13"/></g>
<path class="lg1" d="M254.7 179.7H291.7"/>
<g class="mg"><path d="M273.3 176.23L269.83 183.17L276.77 183.17Z"/></g>
<text class="lg" transform="translate(306.3 131.6) rotate(0.05)">n</text>
<text class="lg" transform="translate(306.3 158.9) rotate(0.05)">H</text>
<text class="lg" transform="translate(306.3 186.1) rotate(0.05)">m</text>
</g>
<text class="lb" transform="translate(831.6 699.8) rotate(0.03)">Number of tokens (K, log scale)</text>
<text class="lb" transform="translate(37.2 331.3) rotate(-89.96)">Pass@k (%)</text>
</svg></body></html>
